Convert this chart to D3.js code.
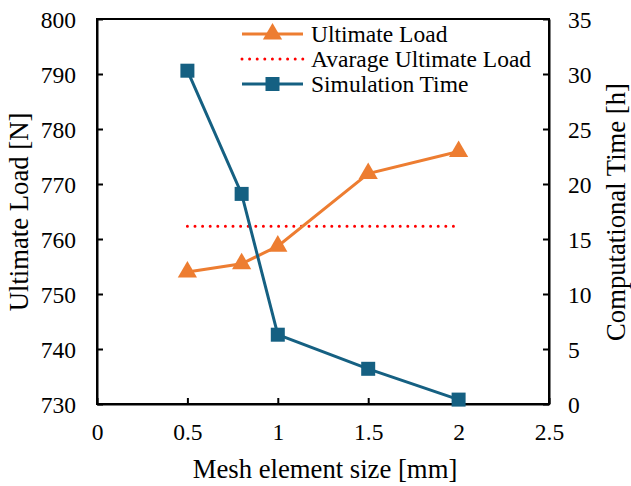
<!DOCTYPE html>
<html><head><meta charset="utf-8">
<script src="https://cdn.jsdelivr.net/npm/d3@7"></script>
<style>body{margin:0;background:#fff}svg{display:block}text{font-family:"Liberation Serif","Times New Roman",serif;fill:#000}</style>
</head><body><svg id="c" width="631" height="486"></svg>
<script>
const meshSizes = [0.5, 0.8, 1.0, 1.5, 2.0];
const ultimateLoad = [754.0, 755.5, 758.7, 771.9, 775.9];
const averageLoad = [762.3, 762.3];
const averageX = [0.5, 2.0];
const simTime = [30.3, 19.1, 6.3, 3.2, 0.4];
const xTicks = [0, 0.5, 1, 1.5, 2, 2.5];
const yLeftTicks = [730, 740, 750, 760, 770, 780, 790, 800];
const yRightTicks = [0, 5, 10, 15, 20, 25, 30, 35];
const legendLabels = ["Ultimate Load", "Avarage Ultimate Load", "Simulation Time"];

const L = 97, R = 549, T = 19, B = 404;
const svg = d3.select("#c");
const x = d3.scaleLinear().domain([0, 2.5]).range([L, R]);
const yL = d3.scaleLinear().domain([730, 800]).range([B, T]);
const yR = d3.scaleLinear().domain([0, 35]).range([B, T]);
const orange = "#ED7D31", blue = "#156082", red = "#FF0000";
const tickFont = "23.5px", titleFont = "26.7px";

// frame
svg.append("rect").attr("x", L).attr("y", T).attr("width", R - L).attr("height", B - T)
  .attr("fill", "none").attr("stroke", "#000").attr("stroke-width", 2);

const fmt = d => String(d);
const ax = svg.append("g").attr("transform", `translate(0,${B})`)
  .call(d3.axisBottom(x).tickValues(xTicks).tickFormat(fmt).tickSizeInner(-6).tickSizeOuter(0).tickPadding(19));
const ayl = svg.append("g").attr("transform", `translate(${L},0)`)
  .call(d3.axisLeft(yL).tickValues(yLeftTicks).tickFormat(fmt).tickSizeInner(-6).tickSizeOuter(0).tickPadding(21));
const ayr = svg.append("g").attr("transform", `translate(${R},0)`)
  .call(d3.axisRight(yR).tickValues(yRightTicks).tickFormat(fmt).tickSizeInner(-6).tickSizeOuter(0).tickPadding(19));
[ax, ayl, ayr].forEach(g => {
  g.select(".domain").attr("stroke", "#000").attr("stroke-width", 2);
  g.selectAll(".tick line").attr("stroke", "#000").attr("stroke-width", 2);
  g.selectAll(".tick text").style("font-size", tickFont).attr("font-family", null);
});
ax.selectAll(".tick text").attr("dy", "0.71em");
ayl.selectAll(".tick text").attr("dy", "0.36em");
ayr.selectAll(".tick text").attr("dy", "0.36em");

// axis titles
svg.append("text").attr("x", 325).attr("y", 478).attr("text-anchor", "middle")
  .style("font-size", titleFont).text("Mesh element size [mm]");
svg.append("text").attr("transform", `translate(28,212) rotate(-90)`).attr("text-anchor", "middle")
  .style("font-size", titleFont).text("Ultimate Load [N]");
svg.append("text").attr("transform", `translate(625,212) rotate(-90)`).attr("text-anchor", "middle")
  .style("font-size", titleFont).text("Computational Time [h]");

// average line
svg.append("path").datum(averageX.map((v, i) => [v, averageLoad[i]]))
  .attr("d", d3.line().x(d => x(d[0])).y(d => yL(d[1])))
  .attr("fill", "none").attr("stroke", red).attr("stroke-width", 3)
  .attr("stroke-dasharray", "0 7.6").attr("stroke-linecap", "round");

// ultimate load
const ulData = meshSizes.map((v, i) => [v, ultimateLoad[i]]);
svg.append("path").datum(ulData)
  .attr("d", d3.line().x(d => x(d[0])).y(d => yL(d[1])))
  .attr("fill", "none").attr("stroke", orange).attr("stroke-width", 3);
const tri = d3.symbol().type(d3.symbolTriangle).size(160);
svg.selectAll(".tri").data(ulData).enter().append("path")
  .attr("d", tri).attr("transform", d => `translate(${x(d[0])},${yL(d[1])})`).attr("fill", orange);

// sim time
const stData = meshSizes.map((v, i) => [v, simTime[i]]);
svg.append("path").datum(stData)
  .attr("d", d3.line().x(d => x(d[0])).y(d => yR(d[1])))
  .attr("fill", "none").attr("stroke", blue).attr("stroke-width", 3);
svg.selectAll(".sq").data(stData).enter().append("rect")
  .attr("x", d => x(d[0]) - 7).attr("y", d => yR(d[1]) - 7).attr("width", 14).attr("height", 14).attr("fill", blue);

// legend
const lg = svg.append("g");
const rows = [34, 59, 84];
const lx0 = 242, lx1 = 303;
lg.append("rect").attr("x", 235).attr("y", 20).attr("width", 305).attr("height", 78).attr("fill", "#fff");
lg.append("line").attr("x1", lx0).attr("x2", lx1).attr("y1", rows[0]).attr("y2", rows[0]).attr("stroke", orange).attr("stroke-width", 3);
lg.append("path").attr("d", tri).attr("transform", `translate(${(lx0 + lx1) / 2},${rows[0]})`).attr("fill", orange);
lg.append("line").attr("x1", lx0).attr("x2", lx1).attr("y1", rows[1]).attr("y2", rows[1]).attr("stroke", red).attr("stroke-width", 3)
  .attr("stroke-dasharray", "0 7.6").attr("stroke-linecap", "round");
lg.append("line").attr("x1", lx0).attr("x2", lx1).attr("y1", rows[2]).attr("y2", rows[2]).attr("stroke", blue).attr("stroke-width", 3);
lg.append("rect").attr("x", (lx0 + lx1) / 2 - 7).attr("y", rows[2] - 7).attr("width", 14).attr("height", 14).attr("fill", blue);
legendLabels.forEach((t, i) => {
  lg.append("text").attr("x", 311).attr("y", rows[i]).attr("dy", "0.33em").style("font-size", tickFont).text(t);
});
</script></body></html>
